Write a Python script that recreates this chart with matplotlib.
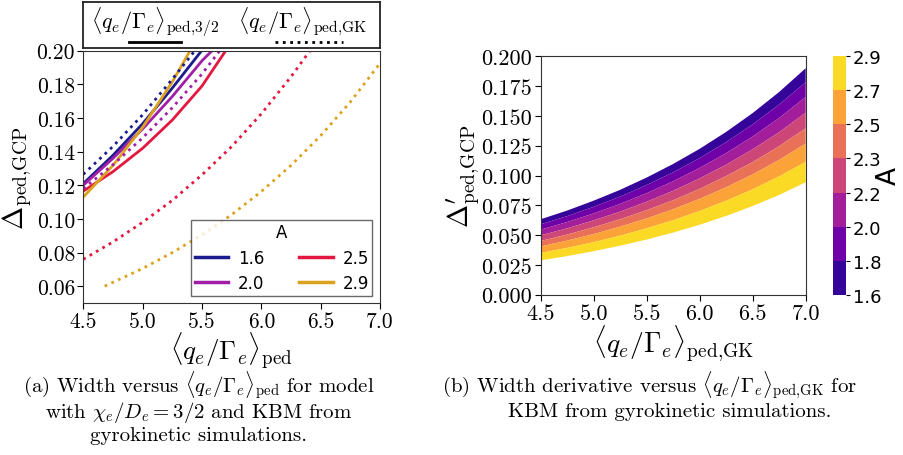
import matplotlib
matplotlib.use("Agg")
import matplotlib.pyplot as plt
import numpy as np
from matplotlib.colors import ListedColormap, BoundaryNorm
from matplotlib.cm import ScalarMappable
from matplotlib.lines import Line2D

plt.rcParams['font.family'] = 'serif'
plt.rcParams['font.serif'] = ['cmr10']
plt.rcParams['mathtext.fontset'] = 'cm'
plt.rcParams['axes.formatter.use_mathtext'] = True
plt.rcParams['axes.unicode_minus'] = False

# ---------------- data: panel (a) ----------------
A_labels = ['1.6', '2.0', '2.5', '2.9']
A_colors = ['#1c1c8e', '#a01fa6', '#e3173f', '#dca21f']

# model chi_e/D_e = 3/2 (solid)
x_32 = [
    [4.5, 4.75, 5.0, 5.25, 5.497],
    [4.5, 4.75, 5.0, 5.25, 5.5, 5.585],
    [4.5, 4.75, 5.0, 5.25, 5.5, 5.70],
    [4.5, 4.75, 5.0, 5.25, 5.40],
]
y_32 = [
    [0.1210, 0.1378, 0.1566, 0.1778, 0.2000],
    [0.1200, 0.1360, 0.1535, 0.1728, 0.1940, 0.2000],
    [0.1165, 0.1281, 0.1420, 0.1588, 0.1790, 0.2000],
    [0.1130, 0.1318, 0.1545, 0.1815, 0.2000],
]
# gyrokinetic (dotted)
x_gk = [
    [4.5, 4.75, 5.0, 5.25, 5.44],
    [4.5, 4.75, 5.0, 5.25, 5.5, 5.65],
    [4.5, 4.75, 5.0, 5.25, 5.5, 5.75, 6.0, 6.25, 6.41],
    [4.68, 5.0, 5.25, 5.5, 5.75, 6.0, 6.25, 6.5, 6.75, 7.0],
]
y_gk = [
    [0.1265, 0.1431, 0.1619, 0.1831, 0.2000],
    [0.1180, 0.1322, 0.1482, 0.1661, 0.1862, 0.2000],
    [0.0760, 0.0863, 0.0980, 0.1110, 0.1262, 0.1430, 0.1625, 0.1845, 0.2000],
    [0.0600, 0.0705, 0.0800, 0.0905, 0.1025, 0.1163, 0.1318, 0.1495, 0.1695, 0.1925],
]
a_xticks = [4.5, 5.0, 5.5, 6.0, 6.5, 7.0]
a_xticklabels = ['4.5', '5.0', '5.5', '6.0', '6.5', '7.0']
a_yticks = [0.06, 0.08, 0.10, 0.12, 0.14, 0.16, 0.18, 0.20]
a_yticklabels = ['0.06', '0.08', '0.10', '0.12', '0.14', '0.16', '0.18', '0.20']

# ---------------- data: panel (b) ----------------
b_x = [4.5, 4.75, 5.0, 5.25, 5.5, 5.75, 6.0, 6.25, 6.5, 6.75, 7.0]
# band boundaries, from A = 1.6 (top) to A = 2.9 (bottom)
b_bounds = [
    [0.0633, 0.0706, 0.0789, 0.0880, 0.0983, 0.1097, 0.1224, 0.1366, 0.1524, 0.1701, 0.1900],
    [0.0591, 0.0659, 0.0737, 0.0823, 0.0920, 0.1027, 0.1146, 0.1280, 0.1429, 0.1596, 0.1783],
    [0.0546, 0.0610, 0.0682, 0.0762, 0.0852, 0.0952, 0.1064, 0.1188, 0.1327, 0.1483, 0.1659],
    [0.0498, 0.0557, 0.0624, 0.0697, 0.0780, 0.0872, 0.0976, 0.1091, 0.1220, 0.1364, 0.1527],
    [0.0451, 0.0505, 0.0566, 0.0633, 0.0709, 0.0793, 0.0888, 0.0995, 0.1113, 0.1246, 0.1396],
    [0.0405, 0.0454, 0.0509, 0.0571, 0.0640, 0.0717, 0.0804, 0.0901, 0.1009, 0.1131, 0.1268],
    [0.0350, 0.0393, 0.0441, 0.0495, 0.0557, 0.0625, 0.0702, 0.0788, 0.0884, 0.0993, 0.1115],
    [0.0288, 0.0324, 0.0365, 0.0411, 0.0463, 0.0521, 0.0587, 0.0661, 0.0744, 0.0837, 0.0943],
]
cb_ticklabels = ['1.6', '1.8', '2.0', '2.2', '2.3', '2.5', '2.7', '2.9']
b_xticks = [4.5, 5.0, 5.5, 6.0, 6.5, 7.0]
b_xticklabels = ['4.5', '5.0', '5.5', '6.0', '6.5', '7.0']
b_yticks = [0.0, 0.025, 0.05, 0.075, 0.1, 0.125, 0.15, 0.175, 0.2]
b_yticklabels = ['0.000', '0.025', '0.050', '0.075', '0.100', '0.125', '0.150', '0.175', '0.200']

# ---------------- figure ----------------
W, H = 904, 456
fig = plt.figure(figsize=(W / 100, H / 100), dpi=100)

def fr(x0, y0, x1, y1):
    return [x0 / W, 1 - y1 / H, (x1 - x0) / W, (y1 - y0) / H]

TICKFS = 15.5
SANS = ['DejaVu Sans']

# panel (a)
ax = fig.add_axes(fr(83.3, 51.7, 380, 304))
handles = []
for xs, ys, c, lab in zip(x_32, y_32, A_colors, A_labels):
    h, = ax.plot(xs, ys, color=c, lw=2.0, label=lab)
    handles.append(h)
for xs, ys, c in zip(x_gk, y_gk, A_colors):
    ax.plot(xs, ys, color=c, lw=2.0, ls=':')
ax.set_xlim(4.5, 7.0)
ax.set_ylim(0.05, 0.20)
ax.set_xticks(a_xticks, a_xticklabels)
ax.set_yticks(a_yticks, a_yticklabels)
ax.tick_params(labelsize=TICKFS, length=4, width=0.8, pad=2)
for s in ax.spines.values():
    s.set_color('#333333')
ax.set_xlabel(r'$\langle q_e/\Gamma_e\rangle_{\mathrm{ped}}$', fontsize=19.5, labelpad=-1)
ax.set_ylabel(r'$\Delta_{\mathrm{ped{,}GCP}}$', fontsize=20, labelpad=2)
leg = ax.legend(handles=handles, title='A', ncol=2, loc='lower right',
                prop={'family': SANS, 'size': 12}, title_fontproperties={'family': SANS, 'size': 12},
                fancybox=False, framealpha=0.8, edgecolor='#444444',
                handlelength=2.0, columnspacing=2.1, borderaxespad=0.45, handletextpad=0.6,
                borderpad=0.2, labelspacing=0.45)
for l in leg.get_lines():
    l.set_linewidth(2.5)

# top legend box
lax = fig.add_axes(fr(83.3, 3, 380, 49))
lax.set_xticks([])
lax.set_yticks([])
lax.set_xlim(0, 1)
lax.set_ylim(0, 1)
for s in lax.spines.values():
    s.set_linewidth(1.3)
    s.set_color('#222222')
lax.text(0.243, 0.58, r'$\langle q_e/\Gamma_e\rangle_{\mathrm{ped{,}3/2}}$', ha='center', va='center', fontsize=16)
lax.text(0.74, 0.58, r'$\langle q_e/\Gamma_e\rangle_{\mathrm{ped{,}GK}}$', ha='center', va='center', fontsize=16)
lax.add_line(Line2D([0.155, 0.33], [0.14, 0.14], color='black', lw=2.0))
lax.add_line(Line2D([0.645, 0.875], [0.14, 0.14], color='black', lw=2.0, ls=':'))

# panel (b)
bx = fig.add_axes(fr(540.7, 57.3, 805.7, 295.7))
nb = len(b_bounds) - 1
band_colors = [plt.cm.plasma((k + 0.5) / nb) for k in range(nb)]
for k in range(nb):
    bx.fill_between(b_x, b_bounds[k + 1], b_bounds[k], color=band_colors[k], lw=0, edgecolor='none')
bx.set_xlim(4.5, 7.0)
bx.set_ylim(0.0, 0.2)
bx.set_xticks(b_xticks, b_xticklabels)
bx.set_yticks(b_yticks, b_yticklabels)
bx.tick_params(labelsize=16, length=4, width=0.8, pad=2)
for s in bx.spines.values():
    s.set_color('#333333')
bx.set_xlabel(r'$\langle q_e/\Gamma_e\rangle_{\mathrm{ped{,}GK}}$', fontsize=20, labelpad=0)
bx.set_ylabel(r'$\Delta^{\prime}_{\mathrm{ped{,}GCP}}$', fontsize=20, labelpad=0)

# colorbar
cax = fig.add_axes(fr(833, 57.3, 846, 295.7))
bnd = np.arange(len(cb_ticklabels))
cmap = ListedColormap(band_colors)
norm = BoundaryNorm(bnd, cmap.N)
sm = ScalarMappable(norm=norm, cmap=cmap)
cb = fig.colorbar(sm, cax=cax, boundaries=bnd, ticks=bnd)
cb.ax.set_yticklabels(cb_ticklabels, family=SANS, fontsize=13)
cb.outline.set_visible(False)
cb.ax.tick_params(length=3, width=0.8, pad=2)
fig.text(889 / W, 1 - 176 / H, 'A', family=SANS, fontsize=19, rotation=90, ha='center', va='center')

# captions
CFS = 15
fig.text(199 / W, 1 - 386 / H, r'(a) Width versus $\langle q_e/\Gamma_e\rangle_{\mathrm{ped}}$ for model',
         ha='center', va='center', fontsize=CFS)
fig.text(199 / W, 1 - 413 / H, r'with $\chi_e/D_e = 3/2$ and KBM from', ha='center', va='center', fontsize=CFS)
fig.text(199 / W, 1 - 436 / H, 'gyrokinetic simulations.', ha='center', va='center', fontsize=CFS)
fig.text(442 / W, 1 - 386 / H, r'(b) Width derivative versus $\langle q_e/\Gamma_e\rangle_{\mathrm{ped{,}GK}}$ for',
         ha='left', va='center', fontsize=CFS)
fig.text(670 / W, 1 - 412 / H, 'KBM from gyrokinetic simulations.', ha='center', va='center', fontsize=CFS)

fig.savefig('out.png', dpi=100)
